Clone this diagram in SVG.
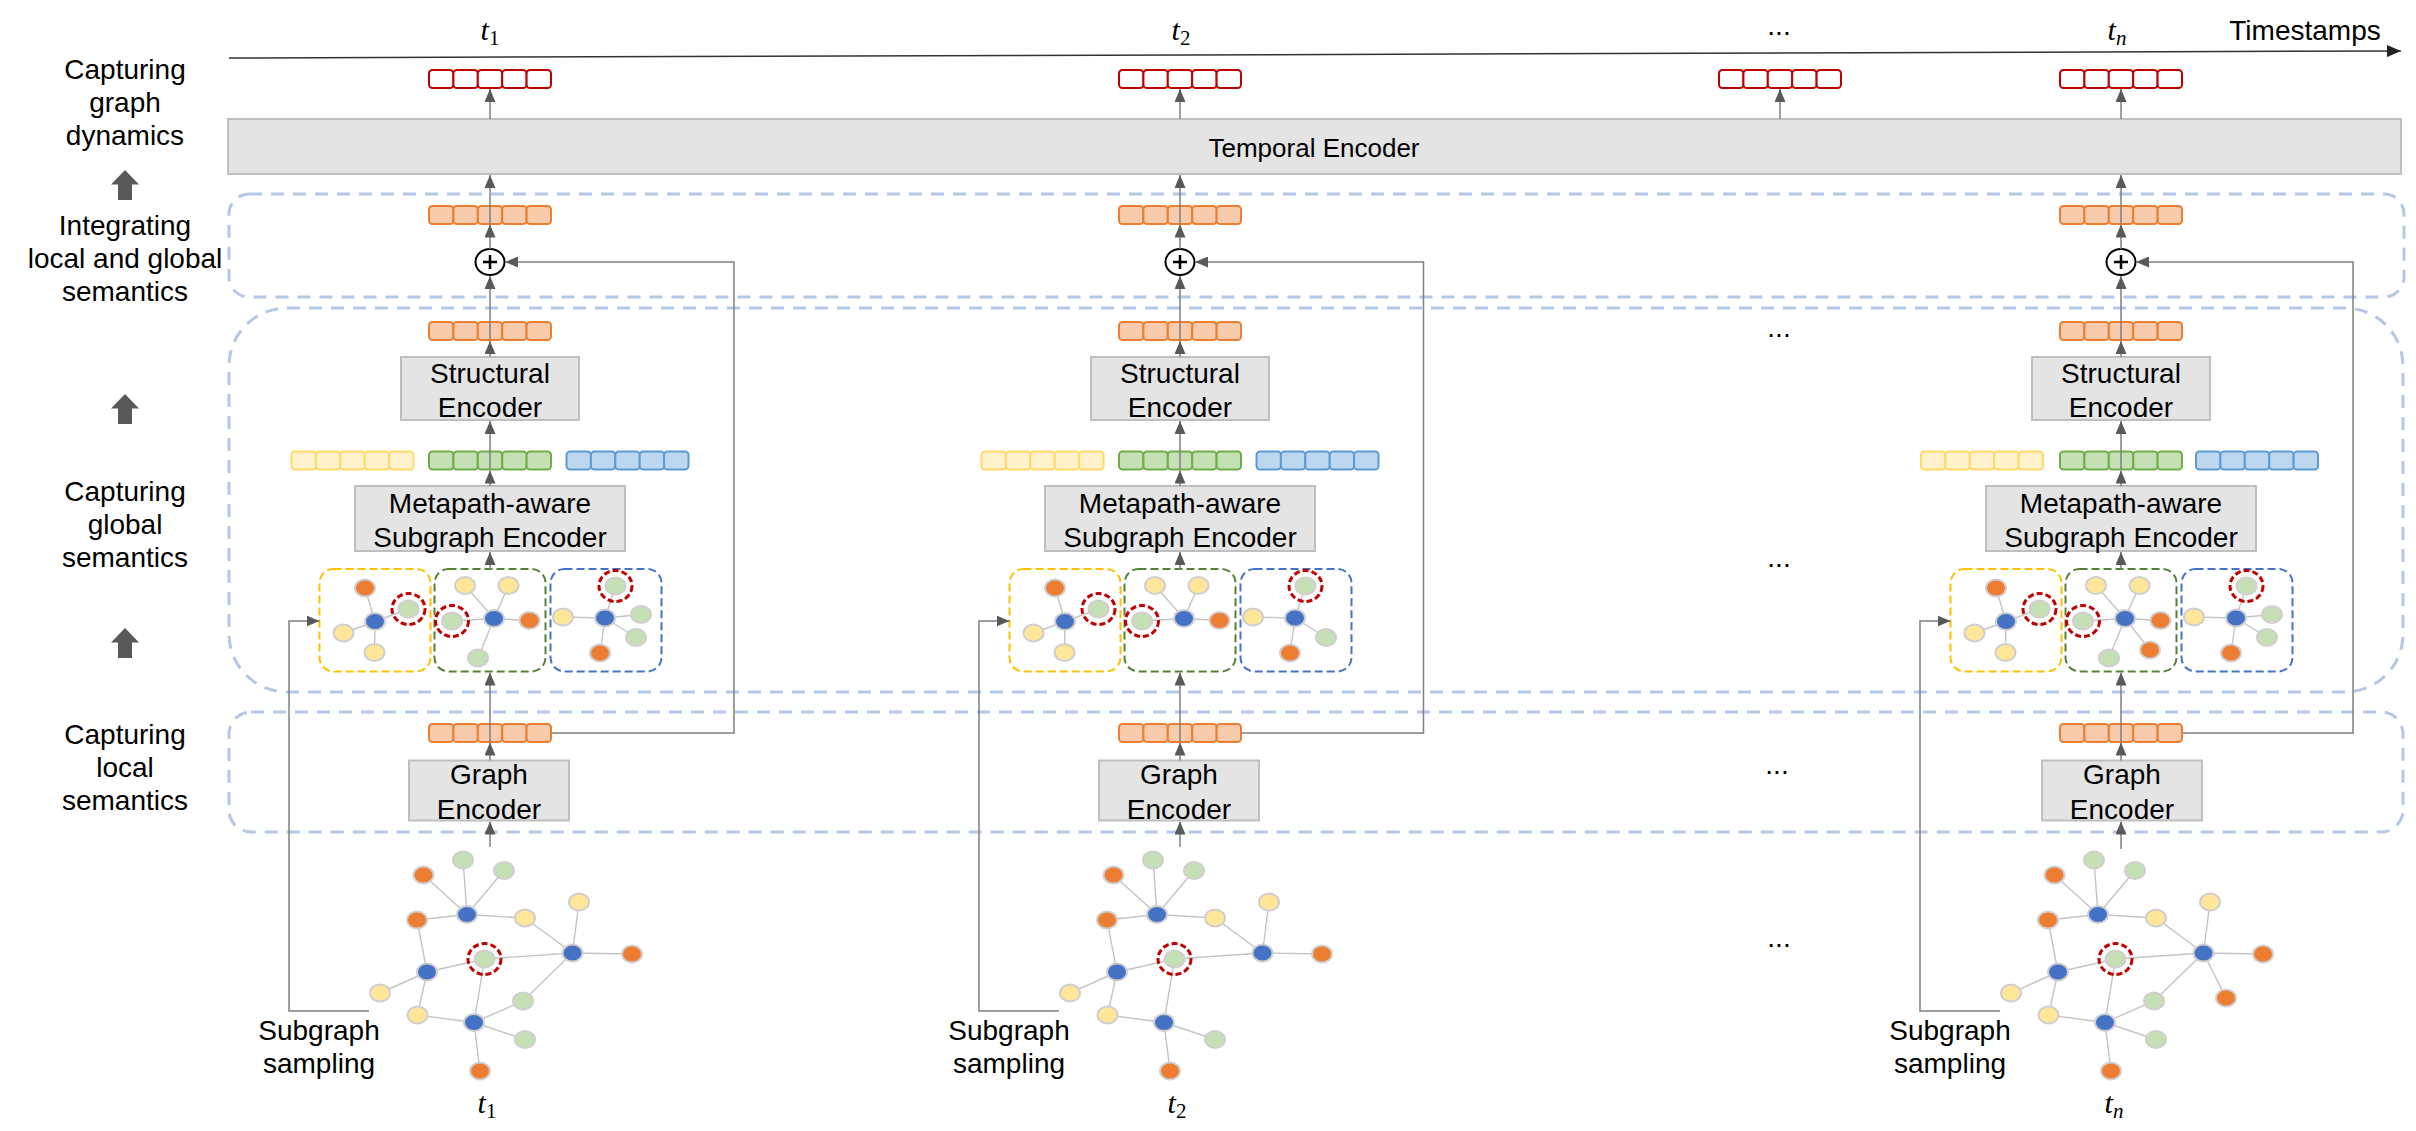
<svg xmlns="http://www.w3.org/2000/svg" width="2416" height="1131" viewBox="0 0 2416 1131">
<style>
.lbl{font-family:"Liberation Sans",Arial,sans-serif;font-size:28px;fill:#000;text-anchor:middle}
.tl{font-family:"Liberation Sans",Arial,sans-serif;font-size:26px;fill:#000;text-anchor:middle}
.tm{font-family:"Liberation Serif","Times New Roman",serif;font-style:italic;font-size:30px;fill:#000;text-anchor:middle}
.sub{font-size:21px;font-style:normal}
.subi{font-size:21px;font-style:italic}
.box{fill:#e4e4e4;stroke:#bfbfbf;stroke-width:2}
.dbox{fill:none;stroke:#b4c7e7;stroke-width:3;stroke-dasharray:13 9}
.conn{fill:none;stroke:#7f7f7f;stroke-width:1.5}
.arr{marker-end:url(#ah)}
.v-red{fill:#fff;stroke:#c00000;stroke-width:2}
.v-or{fill:#f8cbad;stroke:#ed7d31;stroke-width:2}
.v-ye{fill:#fff2cc;stroke:#ffd966;stroke-width:2}
.v-gr{fill:#c5e0b4;stroke:#70ad47;stroke-width:2}
.v-bl{fill:#bdd7ee;stroke:#5b9bd5;stroke-width:2}
.n{stroke:#d0cece;stroke-width:2}
.no{fill:#ed7d31}.nb{fill:#4472c4}.ny{fill:#ffe699}.ng{fill:#c5e0b4}
.ring{fill:none;stroke:#c00000;stroke-width:3;stroke-dasharray:6 3}
.edge{fill:none;stroke:#c4c4c4;stroke-width:1.4}
.sb{fill:none;stroke-width:2;stroke-dasharray:8 4}
.sb-y{stroke:#ffc000}.sb-g{stroke:#548235}.sb-b{stroke:#4472c4}
.plus{fill:#fff;stroke:#000;stroke-width:2}
.plusx{fill:none;stroke:#000;stroke-width:2.5}
.bigarrow{fill:#595959}
</style>
<defs>
<marker id="ah" markerUnits="userSpaceOnUse" markerWidth="13" markerHeight="11" viewBox="0 0 13 11" refX="13" refY="5.5" orient="auto"><path d="M0,0 L13,5.5 L0,11 Z" fill="#595959"/></marker>
<marker id="ahk" markerUnits="userSpaceOnUse" markerWidth="14" markerHeight="12" viewBox="0 0 14 12" refX="14" refY="6" orient="auto"><path d="M0,0 L14,6 L0,12 Z" fill="#222"/></marker>
<g id="cells"><rect x="-61" y="0" width="24.4" height="18" rx="3.5"/><rect x="-36.6" y="0" width="24.4" height="18" rx="3.5"/><rect x="-12.2" y="0" width="24.4" height="18" rx="3.5"/><rect x="12.2" y="0" width="24.4" height="18" rx="3.5"/><rect x="36.6" y="0" width="24.4" height="18" rx="3.5"/></g>
<ellipse id="nd" cx="0" cy="0" rx="10" ry="8.6"/>
<ellipse id="rg" cx="0" cy="0" rx="16.5" ry="15.5"/>
<path id="bg-edges" class="edge" d="M-27,860L-23,914.5M14,870.5L-23,914.5M-66.5,875L-23,914.5M-73,920L-23,914.5L35,918L82.5,953M89,902L82.5,953L142,954M82.5,953L-5.5,959L-63,972M-73,920L-63,972L-110,993M-63,972L-72.5,1015L-16,1022.5M-5.5,959L-16,1022.5L35,1039.5M-16,1022.5L-10,1071"/>
<g id="bg-nodes">
<use href="#nd" x="-27" y="860" class="n ng"/>
<use href="#nd" x="14" y="870.5" class="n ng"/>
<use href="#nd" x="-66.5" y="875" class="n no"/>
<use href="#nd" x="-23" y="914.5" class="n nb"/>
<use href="#nd" x="-73" y="920" class="n no"/>
<use href="#nd" x="35" y="918" class="n ny"/>
<use href="#nd" x="89" y="902" class="n ny"/>
<use href="#nd" x="-5.5" y="959" class="n ng"/>
<use href="#rg" x="-5.5" y="959" class="ring"/>
<use href="#nd" x="82.5" y="953" class="n nb"/>
<use href="#nd" x="142" y="954" class="n no"/>
<use href="#nd" x="-63" y="972" class="n nb"/>
<use href="#nd" x="-110" y="993" class="n ny"/>
<use href="#nd" x="-72.5" y="1015" class="n ny"/>
<use href="#nd" x="-16" y="1022.5" class="n nb"/>
<use href="#nd" x="35" y="1039.5" class="n ng"/>
<use href="#nd" x="-10" y="1071" class="n no"/>
</g>
</defs>
<rect x="0" y="0" width="2416" height="1131" fill="#fff"/>

<g id="row-labels">
<text class="lbl" x="125" y="79">Capturing</text>
<text class="lbl" x="125" y="112">graph</text>
<text class="lbl" x="125" y="145">dynamics</text>
<path class="bigarrow" d="M125,170 L139,184.5 L132,184.5 L132,200 L118,200 L118,184.5 L111,184.5 Z"/>
<text class="lbl" x="125" y="235">Integrating</text>
<text class="lbl" x="125" y="268">local and global</text>
<text class="lbl" x="125" y="301">semantics</text>
<path class="bigarrow" d="M125,394 L139,408.5 L132,408.5 L132,424 L118,424 L118,408.5 L111,408.5 Z"/>
<text class="lbl" x="125" y="501">Capturing</text>
<text class="lbl" x="125" y="534">global</text>
<text class="lbl" x="125" y="567">semantics</text>
<path class="bigarrow" d="M125,628 L139,642.5 L132,642.5 L132,658 L118,658 L118,642.5 L111,642.5 Z"/>
<text class="lbl" x="125" y="744">Capturing</text>
<text class="lbl" x="125" y="777">local</text>
<text class="lbl" x="125" y="810">semantics</text>
</g>

<g id="timeline">
<line x1="229" y1="58" x2="2401" y2="51" stroke="#333" stroke-width="1.5" marker-end="url(#ahk)"/>
<text class="tm" x="490" y="40">t<tspan class="sub" dy="5">1</tspan></text>
<text class="tm" x="1181" y="40">t<tspan class="sub" dy="5">2</tspan></text>
<text class="lbl" x="1779" y="35">...</text>
<text class="tm" x="2117" y="40">t<tspan class="subi" dy="5">n</tspan></text>
<text class="lbl" x="2305" y="40">Timestamps</text>
</g>

<g id="stage-boxes">
<rect class="dbox" x="229" y="194" width="2175" height="103" rx="20"/>
<rect class="dbox" x="229" y="308" width="2174" height="384" rx="58"/>
<rect class="dbox" x="229" y="712" width="2174" height="120" rx="22"/>
</g>

<g id="temporal-encoder">
<rect class="box" x="228" y="119" width="2173" height="55"/>
<text class="tl" x="1314" y="156.5">Temporal Encoder</text>
</g>

<g id="mid-column">
<use href="#cells" class="v-red" x="1780" y="70"/>
<text class="lbl" x="1779" y="337">...</text>
<text class="lbl" x="1779" y="567">...</text>
<text class="lbl" x="1777" y="774">...</text>
<text class="lbl" x="1779" y="947">...</text>
</g>

<!-- Column 1 -->
<g id="col1" transform="translate(490,0)">
<g id="c1-out"><use href="#cells" class="v-red" y="70"/></g>
<g id="c1-fused"><use href="#cells" class="v-or" y="206"/></g>
<g id="c1-plus"><ellipse class="plus" cx="0" cy="262" rx="14.5" ry="13"/><path class="plusx" d="M-7,262H7M0,255V269"/></g>
<g id="c1-struct-vec"><use href="#cells" class="v-or" y="322"/></g>
<g id="c1-struct"><rect class="box" x="-89" y="357" width="178" height="63"/><text class="lbl" x="0" y="383">Structural</text><text class="lbl" x="0" y="416.5">Encoder</text></g>
<g id="c1-meta-vecs"><use href="#cells" class="v-ye" x="-137.5" y="451.5"/><use href="#cells" class="v-gr" x="0" y="451.5"/><use href="#cells" class="v-bl" x="137.5" y="451.5"/></g>
<g id="c1-meta"><rect class="box" x="-135" y="486" width="270" height="65"/><text class="lbl" x="0" y="512.5">Metapath-aware</text><text class="lbl" x="0" y="546.5">Subgraph Encoder</text></g>
<g id="c1-subgraphs">
<rect class="sb sb-y" x="-170.5" y="569" width="111" height="102.5" rx="14"/>
<rect class="sb sb-g" x="-55.5" y="569" width="111" height="102.5" rx="14"/>
<rect class="sb sb-b" x="60.5" y="569" width="111" height="102.5" rx="14"/>
<path class="edge" d="M-115,621.5L-125,588M-115,621.5L-81.5,609M-115,621.5L-146.5,633M-115,621.5L-115.5,652.5M4,618.5L-25,585.5M4,618.5L18.5,585.5M4,618.5L-38,621M4,618.5L39.5,620.5M4,618.5L-12,658M115,618L125.5,586M115,618L73,617M115,618L151,614.5M115,618L146,637.5M115,618L110,653"/>
<use href="#nd" x="-125" y="588" class="n no"/>
<use href="#nd" x="-81.5" y="609" class="n ng"/><use href="#rg" x="-81.5" y="609" class="ring"/>
<use href="#nd" x="-115" y="621.5" class="n nb"/>
<use href="#nd" x="-146.5" y="633" class="n ny"/>
<use href="#nd" x="-115.5" y="652.5" class="n ny"/>
<use href="#nd" x="-25" y="585.5" class="n ny"/>
<use href="#nd" x="18.5" y="585.5" class="n ny"/>
<use href="#nd" x="-38" y="621" class="n ng"/><use href="#rg" x="-38" y="621" class="ring"/>
<use href="#nd" x="4" y="618.5" class="n nb"/>
<use href="#nd" x="39.5" y="620.5" class="n no"/>
<use href="#nd" x="-12" y="658" class="n ng"/>
<use href="#nd" x="125.5" y="586" class="n ng"/><use href="#rg" x="125.5" y="586" class="ring"/>
<use href="#nd" x="73" y="617" class="n ny"/>
<use href="#nd" x="115" y="618" class="n nb"/>
<use href="#nd" x="151" y="614.5" class="n ng"/>
<use href="#nd" x="146" y="637.5" class="n ng"/>
<use href="#nd" x="110" y="653" class="n no"/>
</g>
<g id="c1-local-vec"><use href="#cells" class="v-or" y="724"/></g>
<g id="c1-graphenc"><rect class="box" x="-81" y="760.5" width="160" height="60"/><text class="lbl" x="-1" y="784">Graph</text><text class="lbl" x="-1" y="818.5">Encoder</text></g>
<g id="c1-graph">
<path class="edge" d="M-16,1022.5L33,1001L82.5,953"/>
<use href="#bg-edges"/>
<use href="#bg-nodes"/>
<use href="#nd" x="33" y="1001" class="n ng"/>
</g>
<g id="c1-labels">
<text class="lbl" x="-171" y="1040">Subgraph</text><text class="lbl" x="-171" y="1073">sampling</text>
<text class="tm" x="-3" y="1113">t<tspan class="sub" dy="5">1</tspan></text>
</g>
</g>

<!-- Column 2 -->
<g id="col2" transform="translate(1180,0)">
<g id="c2-out"><use href="#cells" class="v-red" y="70"/></g>
<g id="c2-fused"><use href="#cells" class="v-or" y="206"/></g>
<g id="c2-plus"><ellipse class="plus" cx="0" cy="262" rx="14.5" ry="13"/><path class="plusx" d="M-7,262H7M0,255V269"/></g>
<g id="c2-struct-vec"><use href="#cells" class="v-or" y="322"/></g>
<g id="c2-struct"><rect class="box" x="-89" y="357" width="178" height="63"/><text class="lbl" x="0" y="383">Structural</text><text class="lbl" x="0" y="416.5">Encoder</text></g>
<g id="c2-meta-vecs"><use href="#cells" class="v-ye" x="-137.5" y="451.5"/><use href="#cells" class="v-gr" x="0" y="451.5"/><use href="#cells" class="v-bl" x="137.5" y="451.5"/></g>
<g id="c2-meta"><rect class="box" x="-135" y="486" width="270" height="65"/><text class="lbl" x="0" y="512.5">Metapath-aware</text><text class="lbl" x="0" y="546.5">Subgraph Encoder</text></g>
<g id="c2-subgraphs">
<rect class="sb sb-y" x="-170.5" y="569" width="111" height="102.5" rx="14"/>
<rect class="sb sb-g" x="-55.5" y="569" width="111" height="102.5" rx="14"/>
<rect class="sb sb-b" x="60.5" y="569" width="111" height="102.5" rx="14"/>
<path class="edge" d="M-115,621.5L-125,588M-115,621.5L-81.5,609M-115,621.5L-146.5,633M-115,621.5L-115.5,652.5M4,618.5L-25,585.5M4,618.5L18.5,585.5M4,618.5L-38,621M4,618.5L39.5,620.5M115,618L125.5,586M115,618L73,617M115,618L146,637.5M115,618L110,653"/>
<use href="#nd" x="-125" y="588" class="n no"/>
<use href="#nd" x="-81.5" y="609" class="n ng"/><use href="#rg" x="-81.5" y="609" class="ring"/>
<use href="#nd" x="-115" y="621.5" class="n nb"/>
<use href="#nd" x="-146.5" y="633" class="n ny"/>
<use href="#nd" x="-115.5" y="652.5" class="n ny"/>
<use href="#nd" x="-25" y="585.5" class="n ny"/>
<use href="#nd" x="18.5" y="585.5" class="n ny"/>
<use href="#nd" x="-38" y="621" class="n ng"/><use href="#rg" x="-38" y="621" class="ring"/>
<use href="#nd" x="4" y="618.5" class="n nb"/>
<use href="#nd" x="39.5" y="620.5" class="n no"/>
<use href="#nd" x="125.5" y="586" class="n ng"/><use href="#rg" x="125.5" y="586" class="ring"/>
<use href="#nd" x="73" y="617" class="n ny"/>
<use href="#nd" x="115" y="618" class="n nb"/>
<use href="#nd" x="146" y="637.5" class="n ng"/>
<use href="#nd" x="110" y="653" class="n no"/>
</g>
<g id="c2-local-vec"><use href="#cells" class="v-or" y="724"/></g>
<g id="c2-graphenc"><rect class="box" x="-81" y="760.5" width="160" height="60"/><text class="lbl" x="-1" y="784">Graph</text><text class="lbl" x="-1" y="818.5">Encoder</text></g>
<g id="c2-graph">
<use href="#bg-edges"/>
<use href="#bg-nodes"/>
</g>
<g id="c2-labels">
<text class="lbl" x="-171" y="1040">Subgraph</text><text class="lbl" x="-171" y="1073">sampling</text>
<text class="tm" x="-3" y="1113">t<tspan class="sub" dy="5">2</tspan></text>
</g>
</g>

<!-- Column n -->
<g id="col3" transform="translate(2121,0)">
<g id="c3-out"><use href="#cells" class="v-red" y="70"/></g>
<g id="c3-fused"><use href="#cells" class="v-or" y="206"/></g>
<g id="c3-plus"><ellipse class="plus" cx="0" cy="262" rx="14.5" ry="13"/><path class="plusx" d="M-7,262H7M0,255V269"/></g>
<g id="c3-struct-vec"><use href="#cells" class="v-or" y="322"/></g>
<g id="c3-struct"><rect class="box" x="-89" y="357" width="178" height="63"/><text class="lbl" x="0" y="383">Structural</text><text class="lbl" x="0" y="416.5">Encoder</text></g>
<g id="c3-meta-vecs"><use href="#cells" class="v-ye" x="-139" y="451.5"/><use href="#cells" class="v-gr" x="0" y="451.5"/><use href="#cells" class="v-bl" x="136" y="451.5"/></g>
<g id="c3-meta"><rect class="box" x="-135" y="486" width="270" height="65"/><text class="lbl" x="0" y="512.5">Metapath-aware</text><text class="lbl" x="0" y="546.5">Subgraph Encoder</text></g>
<g id="c3-subgraphs">
<rect class="sb sb-y" x="-170.5" y="569" width="111" height="102.5" rx="14"/>
<rect class="sb sb-g" x="-55.5" y="569" width="111" height="102.5" rx="14"/>
<rect class="sb sb-b" x="60.5" y="569" width="111" height="102.5" rx="14"/>
<path class="edge" d="M-115,621.5L-125,588M-115,621.5L-81.5,609M-115,621.5L-146.5,633M-115,621.5L-115.5,652.5M4,618.5L-25,585.5M4,618.5L18.5,585.5M4,618.5L-38,621M4,618.5L39.5,620.5M4,618.5L-12,658M4,618.5L29,650M115,618L125.5,586M115,618L73,617M115,618L151,614.5M115,618L146,637.5M115,618L110,653"/>
<use href="#nd" x="-125" y="588" class="n no"/>
<use href="#nd" x="-81.5" y="609" class="n ng"/><use href="#rg" x="-81.5" y="609" class="ring"/>
<use href="#nd" x="-115" y="621.5" class="n nb"/>
<use href="#nd" x="-146.5" y="633" class="n ny"/>
<use href="#nd" x="-115.5" y="652.5" class="n ny"/>
<use href="#nd" x="-25" y="585.5" class="n ny"/>
<use href="#nd" x="18.5" y="585.5" class="n ny"/>
<use href="#nd" x="-38" y="621" class="n ng"/><use href="#rg" x="-38" y="621" class="ring"/>
<use href="#nd" x="4" y="618.5" class="n nb"/>
<use href="#nd" x="39.5" y="620.5" class="n no"/>
<use href="#nd" x="-12" y="658" class="n ng"/>
<use href="#nd" x="29" y="650" class="n no"/>
<use href="#nd" x="125.5" y="586" class="n ng"/><use href="#rg" x="125.5" y="586" class="ring"/>
<use href="#nd" x="73" y="617" class="n ny"/>
<use href="#nd" x="115" y="618" class="n nb"/>
<use href="#nd" x="151" y="614.5" class="n ng"/>
<use href="#nd" x="146" y="637.5" class="n ng"/>
<use href="#nd" x="110" y="653" class="n no"/>
</g>
<g id="c3-local-vec"><use href="#cells" class="v-or" y="724"/></g>
<g id="c3-graphenc"><rect class="box" x="-79" y="760.5" width="160" height="60"/><text class="lbl" x="1" y="784">Graph</text><text class="lbl" x="1" y="818.5">Encoder</text></g>
<g id="c3-graph">
<path class="edge" d="M-16,1022.5L33,1001L82.5,953L105,998"/>
<use href="#bg-edges"/>
<use href="#bg-nodes"/>
<use href="#nd" x="33" y="1001" class="n ng"/>
<use href="#nd" x="105" y="998" class="n no"/>
</g>
<g id="c3-labels">
<text class="lbl" x="-171" y="1040">Subgraph</text><text class="lbl" x="-171" y="1073">sampling</text>
<text class="tm" x="-7" y="1113">t<tspan class="subi" dy="5">n</tspan></text>
</g>
</g>

<g id="connectors">
<!-- column 1 -->
<path class="conn arr" d="M490,847V821.5"/>
<path class="conn arr" d="M490,760.5V742.5"/>
<path class="conn arr" d="M490,742V672.5"/>
<path class="conn arr" d="M490,569V552"/>
<path class="conn arr" d="M490,486V470.5"/>
<path class="conn arr" d="M490,469.5V421"/>
<path class="conn arr" d="M490,357V341"/>
<path class="conn arr" d="M490,340V276"/>
<path class="conn arr" d="M490,249V224.5"/>
<path class="conn arr" d="M490,224V175"/>
<path class="conn arr" d="M490,119V89"/>
<path class="conn arr" d="M369,1011H289V621H319.5"/>
<path class="conn arr" d="M552,733H734V262H505"/>
<!-- column 2 -->
<path class="conn arr" d="M1180,847V821.5"/>
<path class="conn arr" d="M1180,760.5V742.5"/>
<path class="conn arr" d="M1180,742V672.5"/>
<path class="conn arr" d="M1180,569V552"/>
<path class="conn arr" d="M1180,486V470.5"/>
<path class="conn arr" d="M1180,469.5V421"/>
<path class="conn arr" d="M1180,357V341"/>
<path class="conn arr" d="M1180,340V276"/>
<path class="conn arr" d="M1180,249V224.5"/>
<path class="conn arr" d="M1180,224V175"/>
<path class="conn arr" d="M1180,119V89"/>
<path class="conn arr" d="M1059,1011H979V621H1009.5"/>
<path class="conn arr" d="M1242,733H1423.5V262H1195"/>
<!-- middle -->
<path class="conn arr" d="M1780,119V89"/>
<!-- column n -->
<path class="conn arr" d="M2121,849V821.5"/>
<path class="conn arr" d="M2121,760.5V742.5"/>
<path class="conn arr" d="M2121,742V672.5"/>
<path class="conn arr" d="M2121,569V552"/>
<path class="conn arr" d="M2121,486V470.5"/>
<path class="conn arr" d="M2121,469.5V421"/>
<path class="conn arr" d="M2121,357V341"/>
<path class="conn arr" d="M2121,340V276"/>
<path class="conn arr" d="M2121,249V224.5"/>
<path class="conn arr" d="M2121,224V175"/>
<path class="conn arr" d="M2121,119V89"/>
<path class="conn arr" d="M2000,1011H1920V621H1950.5"/>
<path class="conn arr" d="M2183,733H2353V262H2136"/>
</g>
</svg>
